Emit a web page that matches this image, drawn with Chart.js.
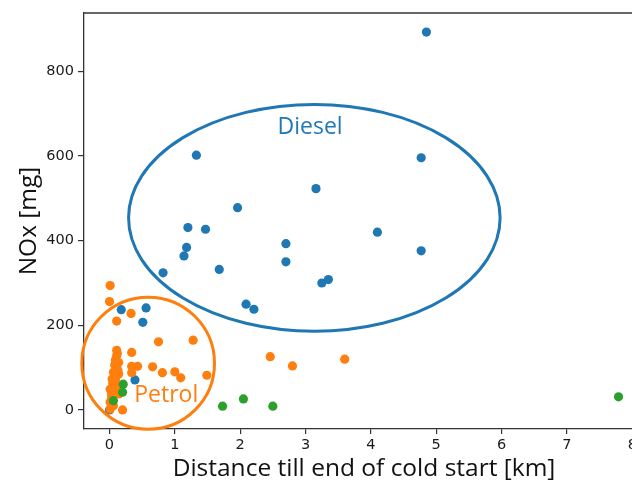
<!DOCTYPE html>
<html>
<head>
<meta charset="utf-8">
<script src="https://cdn.jsdelivr.net/npm/chart.js@4.4.1/dist/chart.umd.min.js"></script>
<style>
  html, body { margin: 0; padding: 0; background: #fff; overflow: hidden; width: 632px; height: 485px; }
  #wrap { width: 660px; height: 485px; position: relative; }
</style>
</head>
<body>
<div id="wrap"><canvas id="c"></canvas></div>
<script>
// ---- data ----
const dieselX = [4.85, 1.33, 4.77, 3.16, 1.96, 1.20, 1.47, 4.10, 1.18, 2.70, 1.14, 1.68, 0.82, 4.77, 2.70, 2.09, 2.21, 3.25, 3.35, 0.18, 0.56, 0.51, 0.39, 0.00];
const dieselY = [893, 602, 596, 523, 478, 431, 427, 420, 384, 393, 364, 332, 324, 376, 350, 250, 238, 300, 308, 237, 241, 207, 71, 0];

const petrolX = [0.01, 0.00, 0.11, 0.33, 0.75, 1.28, 0.34, 0.34, 0.43, 0.66, 0.81, 1.00, 1.09, 1.49, 0.34, 0.20, 2.46, 2.80, 3.60,
                 0.11, 0.11, 0.09, 0.14, 0.11, 0.06, 0.14, 0.04, 0.09, 0.11, 0.01, 0.06, 0.14, 0.04, 0.01, 0.06, 0.01, 0.03,
                 0.12, 0.08, 0.13, 0.05, 0.10, 0.03];
const petrolY = [294, 256, 210, 228, 161, 165, 136, 103, 103, 102, 88, 90, 76, 82, 88, 0, 126, 104, 120,
                 141, 128, 118, 112, 100, 89, 85, 73, 69, 57, 49, 42, 38, 30, 18, 10, 2, 24,
                 134, 106, 93, 63, 78, 36];

const otherX = [0.21, 0.20, 0.06, 1.73, 2.05, 2.50, 7.79];
const otherY = [61, 42, 22, 9, 26, 9, 31];

const xTicks = [0, 1, 2, 3, 4, 5, 6, 7, 8];
const yTicks = [0, 200, 400, 600, 800];

// annotation groups (data units)
const groupLabels = ['Diesel', 'Petrol'];
const groupCx = [3.135, 0.592];
const groupCy = [454, 110.6];
const groupRx = [2.843, 1.015];
const groupRy = [268, 156];
const groupTextX = [3.07, 0.868];
const groupTextY = [668, 35];

const BLUE = '#1f77b4', ORANGE = '#ff7f0e', GREEN = '#2ca02c';
const groupColors = [BLUE, ORANGE];

const toPts = (xs, ys) => xs.map((x, i) => ({ x: x, y: ys[i] }));

const groupPlugin = {
  id: 'groups',
  afterDatasetsDraw(chart) {
    const { ctx, scales: { x, y }, chartArea } = chart;
    ctx.save();
    ctx.strokeStyle = '#333';
    ctx.lineWidth = 1.3;
    ctx.beginPath();
    ctx.moveTo(chartArea.left, chartArea.top);
    ctx.lineTo(chartArea.right, chartArea.top);
    ctx.stroke();
    groupLabels.forEach((lab, i) => {
      const cx = x.getPixelForValue(groupCx[i]);
      const cy = y.getPixelForValue(groupCy[i]);
      const rx = x.getPixelForValue(groupCx[i] + groupRx[i]) - cx;
      const ry = cy - y.getPixelForValue(groupCy[i] + groupRy[i]);
      ctx.strokeStyle = groupColors[i];
      ctx.lineWidth = 3;
      ctx.beginPath();
      ctx.ellipse(cx, cy, rx, ry, 0, 0, Math.PI * 2);
      ctx.stroke();
      ctx.fillStyle = groupColors[i];
      ctx.font = '23px "Open Sans"';
      ctx.textAlign = 'center';
      ctx.textBaseline = 'middle';
      ctx.fillText(lab, x.getPixelForValue(groupTextX[i]), y.getPixelForValue(groupTextY[i]));
    });
    ctx.restore();
  }
};

new Chart(document.getElementById('c'), {
  type: 'scatter',
  data: {
    datasets: [
      { label: 'Diesel', data: toPts(dieselX, dieselY), backgroundColor: BLUE, borderWidth: 0, pointRadius: 4.6, order: 3 },
      { label: 'Petrol', data: toPts(petrolX, petrolY), backgroundColor: ORANGE, borderWidth: 0, pointRadius: 4.6, order: 2 },
      { label: 'Other', data: toPts(otherX, otherY), backgroundColor: GREEN, borderWidth: 0, pointRadius: 4.6, order: 1 }
    ]
  },
  options: {
    responsive: true,
    maintainAspectRatio: false,
    animation: false,
    events: [],
    layout: { padding: { top: 13, right: 16, bottom: 0, left: 0 } },
    plugins: { legend: { display: false }, tooltip: { enabled: false } },
    scales: {
      x: {
        type: 'linear',
        min: -0.39, max: 8.18,
        afterBuildTicks: s => { s.ticks = xTicks.map(v => ({ value: v })); },
        afterFit: s => { s.height = 56; },
        grid: { drawOnChartArea: false, drawTicks: true, tickLength: 5, color: '#333', lineWidth: 1.2 },
        border: { display: true, color: '#333', width: 1.3 },
        ticks: { color: '#1a1a1a', font: { family: 'DejaVu Sans', size: 14.5 }, padding: 3, maxRotation: 0 },
        title: { display: true, text: 'Distance till end of cold start [km]', color: '#111',
                 font: { family: 'Open Sans', size: 24.5 }, padding: { top: 0, bottom: 1 } }
      },
      y: {
        type: 'linear',
        min: -45, max: 938,
        afterBuildTicks: s => { s.ticks = yTicks.map(v => ({ value: v })); },
        afterFit: s => { s.width = 84; },
        grid: { drawOnChartArea: false, drawTicks: true, tickLength: 6, color: '#333', lineWidth: 1.2 },
        border: { display: true, color: '#333', width: 1.3 },
        ticks: { color: '#1a1a1a', font: { family: 'DejaVu Sans', size: 14.5 }, padding: 4 },
        title: { display: true, text: 'NOx [mg]', color: '#111',
                 font: { family: 'Open Sans', size: 24.5 }, padding: { top: 14, bottom: 0 } }
      }
    }
  },
  plugins: [groupPlugin]
});
</script>
</body>
</html>
